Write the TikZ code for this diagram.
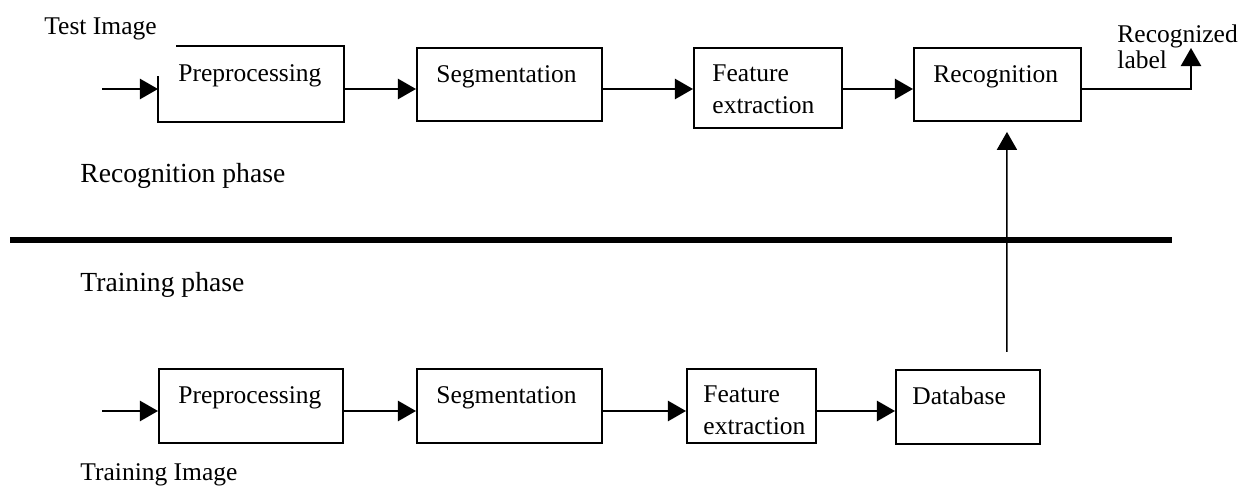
\documentclass[tikz,border=0pt]{standalone}
\usepackage{fontspec}
\setmainfont{Liberation Serif}
\usetikzlibrary{calc,arrows.meta}
\tikzset{>={Triangle[length=8.5pt,width=9.5pt]}}
\newcommand{\px}{0.4706pt}

\begin{document}
\begin{tikzpicture}[x=\px, y=-\px, every node/.style={font=\fontsize{12}{15}\selectfont},
        blk/.style={draw, line width=0.9pt, anchor=north west, inner sep=0pt},
        txt/.style={anchor=north west, inner sep=0pt, align=left},
        arr/.style={->, line width=0.9pt}]

    \useasboundingbox (0,0) rectangle (1240,488);

    % Rows of the arrows
    \coordinate (r1) at (0,89);
    \coordinate (r2) at (0,411);
    \coordinate (in1) at (102,89);
    \coordinate (in2) at (102,411);

    % Recognition phase boxes
    \node[blk, draw=none, minimum width=184*\px, minimum height=74*\px] (pre1) at (158,46) {};
    \draw[line width=0.9pt] ([xshift=18*\px]pre1.north west) -- (pre1.north east) -- (pre1.south east)
        -- (pre1.south west) -- ([yshift=-30*\px]pre1.north west);
    \node[blk, minimum width=185*\px, minimum height=73*\px] (seg1) at (416,47) {};
    \node[blk, minimum width=148*\px, minimum height=80*\px] (feat1) at (693,47) {};
    \node[blk, minimum width=167*\px, minimum height=73*\px] (rec1) at (913,47) {};

    \node[txt] (pre1t) at ($(pre1.north west)+(20,18.5)$) {Preprocessing};
    \node[txt] (seg1t) at ($(seg1.north west)+(20,18)$) {Segmentation};
    \node[txt] (feat1t) at ($(feat1.north west)+(19,17.5)$) {Feature\\extraction};
    \node[txt] (rec1t) at ($(rec1.north west)+(20,18)$) {Recognition};

    % Training phase boxes
    \node[blk, minimum width=184*\px, minimum height=74*\px] (pre2) at (158,368) {};
    \node[blk, minimum width=185*\px, minimum height=74*\px] (seg2) at (416,368) {};
    \node[blk, minimum width=129*\px, minimum height=74*\px] (feat2) at (686,368) {};
    \node[blk, minimum width=144*\px, minimum height=74*\px] (db) at (895,369) {};

    \node[txt] (pre2t) at ($(pre2.north west)+(20,18)$) {Preprocessing};
    \node[txt] (seg2t) at ($(seg2.north west)+(20,18)$) {Segmentation};
    \node[txt] (feat2t) at ($(feat2.north west)+(17,17.5)$) {Feature\\extraction};
    \node[txt] (dbt) at ($(db.north west)+(17,17.5)$) {Database};

    % Arrows of the recognition phase
    \draw[arr] (in1) -- (in1 -| pre1.west);
    \draw[arr] (pre1.east |- r1) -- (seg1.west |- r1);
    \draw[arr] (seg1.east |- r1) -- (feat1.west |- r1);
    \draw[arr] (feat1.east |- r1) -- (rec1.west |- r1);
    \coordinate (outtip) at (1191,48);
    \draw[arr] (rec1.east |- r1) -| (outtip);

    % Arrows of the training phase
    \draw[arr] (in2) -- (in2 -| pre2.west);
    \draw[arr] (pre2.east |- r2) -- (seg2.west |- r2);
    \draw[arr] (seg2.east |- r2) -- (feat2.west |- r2);
    \draw[arr] (feat2.east |- r2) -- (db.west |- r2);

    % Database to recognition
    \draw[arr, line width=0.7pt] ($(db.north)+(39,-17)$) -- ($(rec1.south)+(9.5,10)$);

    % Dividing line
    \draw[line width=2.8pt] (10,240) -- (1172,240);

    % Labels
    \node[anchor=base west, inner sep=0pt] (testimg) at (44,35) {Test Image};
    \node[anchor=base west, inner sep=0pt, align=left, font=\fontsize{12}{12.5}\selectfont] (reclbl) at (1117,69) {Recognized\\label};
    \node[anchor=base west, inner sep=0pt, font=\fontsize{13}{15}\selectfont] (recph) at (80,183) {Recognition phase};
    \node[anchor=base west, inner sep=0pt, font=\fontsize{13}{15}\selectfont] (trainph) at (80,292) {Training phase};
    \node[anchor=base west, inner sep=0pt] (trainimg) at (80,481) {Training Image};

\end{tikzpicture}
\end{document}
